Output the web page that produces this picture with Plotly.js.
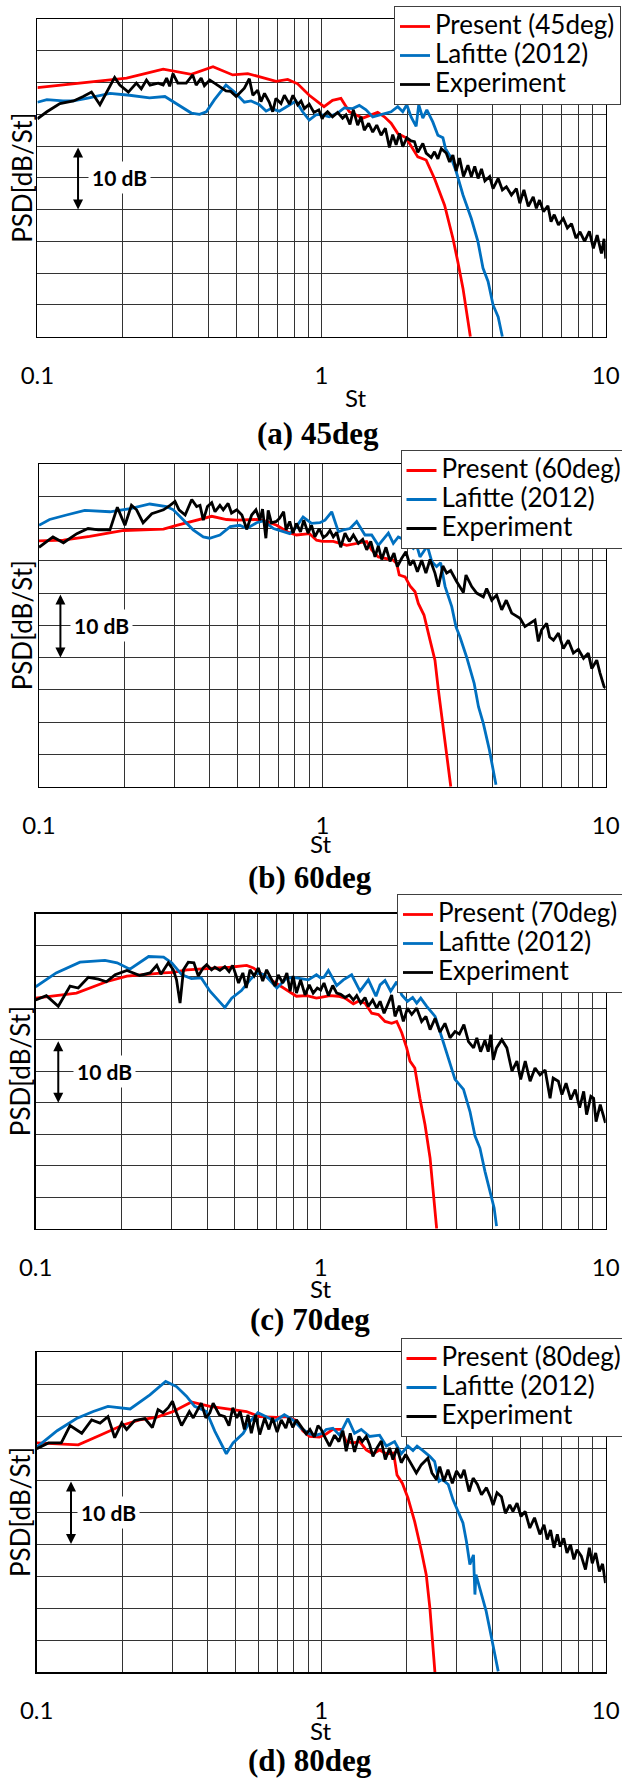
<!DOCTYPE html>
<html>
<head>
<meta charset="utf-8">
<script src="https://cdn.plot.ly/plotly-3.0.1.min.js"></script>
<style>
html,body{margin:0;padding:0;background:#ffffff;}
#chart{width:622px;height:1778px;}
</style>
</head>
<body>
<div id="chart"></div>
<script>
// ---------------- DATA (St, PSD dB relative) ----------------
const stTickValues = [0.1,0.2,0.3,0.4,0.5,0.6,0.7,0.8,0.9,1,2,3,4,5,6,7,8,9,10];
const stTickText   = ['0.1','','','','','','','','','1','','','','','','','','','10'];

const seriesNames = ['Present (45deg)','Present (60deg)','Present (70deg)','Present (80deg)'];
const captions = ['(a) 45deg','(b) 60deg','(c) 70deg','(d) 80deg'];

// ---- (a) 45deg ----
const present45 = [[0.1,39.2],[0.206,40.7],[0.277,42.1],[0.348,41.3],[0.415,42.5],[0.487,41.2],[0.55,41.4],[0.692,40.2],[0.76,40.5],[0.824,39.8],[0.905,38.0],[0.982,36.8],[1.02,36.2],[1.093,37.2],[1.17,37.5],[1.252,35.4],[1.395,34.4],[1.576,35.3],[1.664,34.6],[1.757,33.6],[1.854,32.0],[1.983,31.3],[2.181,28.3],[2.334,27.8],[2.497,24.9],[2.71,20.7],[2.899,15.5],[3.017,11.8],[3.146,7.6],[3.34,0]];
const lafitte45 = [[0.1,36.9],[0.108,37.3],[0.123,37.1],[0.134,37.1],[0.149,37.5],[0.18,38.3],[0.211,38.0],[0.248,37.6],[0.281,37.8],[0.308,36.7],[0.348,35.2],[0.372,35.0],[0.393,35.4],[0.42,37.3],[0.461,39.6],[0.494,38.5],[0.535,36.9],[0.565,37.1],[0.604,36.5],[0.638,35.5],[0.664,35.9],[0.71,35.5],[0.771,36.5],[0.813,37.1],[0.858,35.4],[0.905,34.1],[0.955,34.9],[0.99,35.0],[1.064,34.6],[1.139,35.2],[1.202,36.0],[1.287,35.9],[1.358,36.4],[1.434,35.7],[1.514,34.6],[1.597,34.9],[1.686,35.1],[1.757,35.4],[1.854,36.2],[1.931,35.4],[1.995,36.5],[2.066,34.6],[2.152,33.1],[2.198,36.5],[2.272,34.4],[2.347,35.7],[2.463,33.8],[2.567,31.7],[2.674,31.3],[2.731,29.6],[2.862,28.1],[2.977,26.0],[3.146,22.3],[3.365,18.6],[3.55,15.0],[3.699,10.8],[3.855,8.7],[4.014,5.0],[4.184,3.1],[4.329,0]];
const experiment45 = [[0.1,34.3],[0.108,35.4],[0.12,36.7],[0.134,37.1],[0.145,37.8],[0.155,38.5],[0.166,36.5],[0.177,38.7],[0.187,40.8],[0.195,39.6],[0.209,38.5],[0.223,39.9],[0.232,39.0],[0.242,40.4],[0.249,39.6],[0.266,39.9],[0.277,39.6],[0.285,40.7],[0.292,39.4],[0.3,41.4],[0.312,39.9],[0.334,39.9],[0.352,41.2],[0.362,39.6],[0.377,40.7],[0.387,39.5],[0.404,40.4],[0.42,39.9],[0.442,39.3],[0.461,38.7],[0.479,38.6],[0.501,37.8],[0.535,39.1],[0.557,40.6],[0.573,38.0],[0.596,38.8],[0.612,37.0],[0.63,38.3],[0.655,36.9],[0.673,35.4],[0.691,37.5],[0.72,36.7],[0.74,38.0],[0.771,36.6],[0.793,38.0],[0.824,36.5],[0.847,37.1],[0.87,35.9],[0.905,36.6],[0.94,35.3],[0.978,35.7],[1.005,34.3],[1.022,34.9],[1.05,35.4],[1.093,34.6],[1.139,35.3],[1.186,34.4],[1.219,34.9],[1.259,33.4],[1.294,35.7],[1.34,33.3],[1.377,34.6],[1.414,32.5],[1.465,33.6],[1.514,32.2],[1.564,33.3],[1.62,31.7],[1.677,32.8],[1.733,29.8],[1.78,31.8],[1.83,30.2],[1.88,32.0],[1.931,29.9],[1.995,31.3],[2.066,30.8],[2.123,30.7],[2.181,29.0],[2.272,30.4],[2.334,28.9],[2.433,28.2],[2.497,29.1],[2.567,28.0],[2.639,29.6],[2.746,28.9],[2.822,27.5],[2.899,28.6],[2.977,26.1],[3.06,28.1],[3.159,25.2],[3.274,27.0],[3.366,25.2],[3.46,26.8],[3.556,24.9],[3.655,26.4],[3.757,24.5],[3.905,25.2],[4.014,23.3],[4.184,24.9],[4.329,23.1],[4.473,23.6],[4.658,22.3],[4.85,23.3],[4.986,21.0],[5.154,23.1],[5.339,20.5],[5.558,22.0],[5.701,20.2],[5.848,21.5],[6.04,19.7],[6.26,20.6],[6.42,18.1],[6.59,19.2],[6.82,17.6],[7.09,18.6],[7.33,17.1],[7.58,17.8],[7.86,15.5],[8.12,16.5],[8.43,15.0],[8.76,16.6],[9.05,13.9],[9.33,16.0],[9.66,13.1],[9.87,15.4],[10.0,12.3]];

// ---- (b) 60deg ----
const present60 = [[0.1,38.1],[0.122,38.2],[0.151,38.8],[0.199,39.7],[0.275,39.9],[0.306,40.5],[0.407,41.9],[0.459,41.4],[0.499,41.3],[0.586,41.4],[0.636,41.1],[0.69,40.5],[0.76,39.4],[0.81,39.0],[0.901,39.2],[0.954,38.2],[1.0,38.0],[1.093,38.0],[1.219,37.4],[1.287,37.6],[1.434,38.0],[1.493,36.7],[1.576,35.6],[1.78,35.1],[1.83,34.6],[1.868,32.8],[1.959,32.5],[2.039,31.1],[2.124,30.2],[2.181,28.4],[2.284,26.6],[2.399,22.7],[2.497,19.6],[2.567,15.0],[2.664,9.3],[2.76,4.1],[2.84,0]];
const lafitte60 = [[0.1,40.5],[0.109,41.4],[0.125,42.1],[0.145,42.8],[0.178,42.6],[0.21,43.1],[0.246,43.8],[0.282,43.4],[0.298,42.9],[0.323,41.3],[0.35,39.8],[0.38,38.7],[0.4,38.5],[0.435,39.0],[0.473,40.3],[0.511,40.5],[0.541,40.0],[0.586,40.9],[0.62,41.2],[0.672,40.0],[0.727,39.5],[0.767,39.2],[0.81,40.3],[0.855,41.8],[0.916,40.8],[0.98,40.9],[1.022,41.3],[1.079,42.6],[1.139,39.5],[1.186,39.8],[1.252,40.0],[1.322,41.1],[1.414,39.0],[1.493,39.0],[1.576,37.4],[1.71,39.3],[1.78,37.7],[1.854,38.7],[1.959,38.2],[2.039,37.4],[2.095,36.9],[2.152,37.4],[2.211,35.6],[2.347,37.3],[2.433,34.9],[2.53,34.1],[2.615,34.7],[2.712,31.0],[2.862,27.9],[2.961,24.8],[3.06,23.2],[3.229,20.1],[3.434,16.0],[3.556,12.4],[3.699,9.8],[3.886,5.7],[4.029,2.3],[4.1,0.3]];
const experiment60 = [[0.1,37.1],[0.112,38.7],[0.122,37.8],[0.136,39.2],[0.149,40.0],[0.162,39.8],[0.178,39.8],[0.189,43.3],[0.201,40.5],[0.212,43.6],[0.221,42.9],[0.233,40.9],[0.25,42.3],[0.275,42.9],[0.29,43.6],[0.302,44.2],[0.312,42.9],[0.328,42.1],[0.346,44.5],[0.36,43.4],[0.37,43.6],[0.38,41.3],[0.393,43.4],[0.407,44.0],[0.418,42.6],[0.435,43.6],[0.447,42.9],[0.465,43.9],[0.478,42.4],[0.499,42.9],[0.52,42.1],[0.541,39.9],[0.563,42.1],[0.583,42.9],[0.602,41.3],[0.615,43.0],[0.632,38.5],[0.644,42.8],[0.661,40.9],[0.688,41.1],[0.707,41.6],[0.73,42.6],[0.745,39.8],[0.767,41.1],[0.788,39.3],[0.81,40.8],[0.837,39.5],[0.86,41.3],[0.89,39.3],[0.916,40.5],[0.941,38.7],[0.975,40.0],[1.008,38.6],[1.036,39.0],[1.064,39.7],[1.093,38.7],[1.124,39.4],[1.161,37.1],[1.202,39.3],[1.245,38.0],[1.287,39.0],[1.34,37.7],[1.388,38.3],[1.434,36.7],[1.482,38.0],[1.534,35.6],[1.576,37.3],[1.62,35.2],[1.677,37.1],[1.733,34.9],[1.79,36.2],[1.839,34.1],[1.906,35.4],[1.972,36.4],[2.039,34.3],[2.095,35.1],[2.165,33.3],[2.242,35.1],[2.32,33.1],[2.399,35.2],[2.497,33.1],[2.567,31.0],[2.663,34.2],[2.746,33.1],[2.837,33.5],[2.977,31.8],[3.146,30.1],[3.213,32.8],[3.366,31.0],[3.505,30.0],[3.699,29.4],[3.801,30.7],[3.96,28.9],[4.122,29.7],[4.295,27.4],[4.457,28.9],[4.658,26.9],[4.986,26.1],[5.189,24.8],[5.41,25.3],[5.629,25.8],[5.783,22.5],[5.94,24.3],[6.19,25.3],[6.34,23.2],[6.54,22.7],[6.81,23.8],[7.09,21.4],[7.38,22.7],[7.69,20.7],[8.01,21.3],[8.35,19.9],[8.68,20.7],[8.93,18.3],[9.3,19.6],[9.55,17.6],[9.87,15.5],[10.0,15.3]];

// ---- (c) 70deg ----
const present70 = [[0.1,36.6],[0.118,37.0],[0.139,37.4],[0.177,39.2],[0.209,40.1],[0.281,40.6],[0.304,40.7],[0.339,41.1],[0.398,41.3],[0.48,41.5],[0.55,41.8],[0.58,41.4],[0.628,40.3],[0.682,39.3],[0.74,38.2],[0.822,36.9],[0.894,37.0],[0.966,36.6],[1.0,36.7],[1.078,37.0],[1.154,36.9],[1.217,36.6],[1.302,35.7],[1.356,36.1],[1.431,35.8],[1.51,34.2],[1.594,34.0],[1.681,32.9],[1.774,32.6],[1.848,32.9],[1.925,31.1],[2.003,28.7],[2.057,26.6],[2.139,25.5],[2.229,20.7],[2.323,16.5],[2.42,11.2],[2.485,5.9],[2.552,0]];
const lafitte70 = [[0.1,38.4],[0.118,40.6],[0.143,42.3],[0.175,42.6],[0.193,42.2],[0.214,41.2],[0.249,43.2],[0.281,43.1],[0.3,42.2],[0.326,40.3],[0.352,39.7],[0.381,39.8],[0.409,37.7],[0.461,35.1],[0.487,36.6],[0.527,37.8],[0.565,39.5],[0.596,40.6],[0.636,40.3],[0.702,38.2],[0.761,39.8],[0.822,39.8],[0.905,39.5],[0.966,40.3],[1.0,39.8],[1.027,39.9],[1.064,41.0],[1.138,38.6],[1.201,39.5],[1.284,40.3],[1.374,37.7],[1.47,39.5],[1.563,36.9],[1.616,38.7],[1.681,39.4],[1.76,37.7],[1.848,39.2],[1.925,37.1],[2.016,36.1],[2.102,36.7],[2.172,35.8],[2.244,36.6],[2.355,35.3],[2.52,33.7],[2.621,31.3],[2.753,28.1],[2.883,25.5],[2.96,23.7],[3.17,22.1],[3.34,18.6],[3.48,14.7],[3.62,12.8],[3.77,9.1],[3.98,4.9],[4.06,3.3],[4.14,0.4]];
const experiment70 = [[0.1,36.3],[0.109,37.0],[0.12,35.3],[0.132,38.5],[0.141,38.2],[0.153,39.9],[0.166,39.6],[0.177,39.2],[0.19,40.3],[0.209,41.0],[0.232,40.2],[0.252,40.6],[0.266,41.8],[0.275,40.4],[0.292,42.2],[0.304,41.1],[0.312,39.5],[0.321,35.8],[0.33,41.1],[0.343,42.3],[0.359,42.2],[0.372,40.1],[0.387,41.4],[0.398,41.9],[0.414,41.1],[0.425,41.5],[0.443,41.0],[0.461,41.6],[0.477,40.8],[0.491,41.8],[0.515,39.0],[0.533,40.6],[0.548,38.2],[0.565,41.1],[0.584,40.1],[0.604,41.4],[0.626,39.3],[0.646,41.1],[0.668,39.8],[0.692,38.5],[0.71,40.3],[0.736,39.0],[0.761,40.6],[0.781,37.7],[0.8,40.1],[0.822,37.4],[0.85,39.5],[0.881,37.1],[0.912,38.7],[0.941,37.4],[0.973,38.2],[1.0,37.9],[1.027,39.0],[1.064,37.0],[1.102,38.6],[1.138,37.4],[1.175,37.2],[1.217,36.7],[1.26,37.1],[1.302,36.3],[1.338,37.0],[1.382,35.8],[1.431,36.7],[1.47,35.3],[1.522,36.3],[1.572,35.0],[1.616,36.1],[1.669,34.2],[1.726,35.8],[1.774,37.1],[1.823,33.7],[1.886,35.4],[1.95,32.9],[2.016,35.0],[2.086,34.0],[2.172,35.0],[2.26,32.9],[2.34,33.7],[2.42,31.6],[2.52,33.4],[2.621,31.2],[2.729,32.6],[2.843,30.3],[2.96,31.3],[3.066,30.9],[3.18,32.4],[3.3,29.7],[3.44,28.7],[3.53,30.3],[3.64,28.1],[3.77,29.9],[3.87,28.1],[3.95,30.8],[4.03,26.8],[4.14,28.7],[4.32,30.0],[4.5,28.7],[4.69,25.0],[4.88,26.6],[5.03,23.7],[5.22,26.6],[5.43,23.4],[5.65,25.5],[5.88,24.4],[6.13,25.2],[6.38,20.7],[6.54,23.9],[6.82,23.4],[7.02,21.3],[7.26,23.1],[7.54,20.5],[7.82,22.1],[8.1,19.2],[8.37,21.8],[8.57,18.1],[8.87,21.0],[9.07,20.7],[9.25,17.0],[9.57,19.7],[9.98,16.8]];

// ---- (d) 80deg ----
const present80 = [[0.1,35.8],[0.118,35.6],[0.14,35.5],[0.167,37.0],[0.201,38.6],[0.23,39.4],[0.263,39.8],[0.302,40.7],[0.35,42.2],[0.406,41.5],[0.476,41.1],[0.546,40.7],[0.608,39.9],[0.697,39.8],[0.753,39.9],[0.817,39.3],[0.862,37.7],[0.91,36.8],[0.985,36.7],[1.041,37.2],[1.099,37.9],[1.176,37.9],[1.224,36.0],[1.293,35.8],[1.365,36.0],[1.44,34.7],[1.52,34.1],[1.604,34.7],[1.693,34.1],[1.797,34.2],[1.847,30.8],[1.928,29.5],[2.018,27.2],[2.131,23.5],[2.25,18.9],[2.34,15.2],[2.41,10.0],[2.46,4.8],[2.51,0]];
const lafitte80 = [[0.1,35.1],[0.118,37.7],[0.138,39.6],[0.158,40.7],[0.178,41.5],[0.213,41.1],[0.25,43.3],[0.284,45.4],[0.31,44.6],[0.336,43.1],[0.359,41.5],[0.395,40.7],[0.423,37.6],[0.464,34.1],[0.49,35.8],[0.532,37.3],[0.561,39.1],[0.599,40.5],[0.641,39.9],[0.687,39.2],[0.742,40.2],[0.795,39.4],[0.85,38.1],[0.91,37.2],[0.961,37.0],[1.01,37.3],[1.041,37.9],[1.099,38.1],[1.16,37.0],[1.241,39.6],[1.31,37.3],[1.383,37.9],[1.48,36.8],[1.604,37.0],[1.694,35.3],[1.811,36.0],[1.912,34.1],[2.018,35.3],[2.102,34.6],[2.173,35.3],[2.278,34.6],[2.408,33.7],[2.504,32.9],[2.596,29.8],[2.666,30.1],[2.796,29.3],[2.907,26.9],[3.02,25.1],[3.15,23.3],[3.24,20.4],[3.33,16.8],[3.43,18.3],[3.47,12.1],[3.5,15.2],[3.61,13.1],[3.8,9.5],[3.97,5.3],[4.19,0.1]];
const experiment80 = [[0.1,34.9],[0.11,35.8],[0.122,35.8],[0.131,38.5],[0.144,37.3],[0.156,39.4],[0.167,38.9],[0.178,39.9],[0.188,36.6],[0.199,38.9],[0.207,37.9],[0.221,39.3],[0.24,39.6],[0.255,38.2],[0.267,41.0],[0.278,40.5],[0.29,41.3],[0.3,42.3],[0.31,40.5],[0.323,38.5],[0.344,40.7],[0.355,39.7],[0.368,41.0],[0.379,42.0],[0.393,39.7],[0.406,40.5],[0.417,42.0],[0.438,40.2],[0.458,39.9],[0.474,38.5],[0.489,41.3],[0.505,39.7],[0.519,40.7],[0.537,37.9],[0.553,40.2],[0.568,37.3],[0.588,40.2],[0.608,37.1],[0.633,39.7],[0.655,37.9],[0.674,39.7],[0.7,37.5],[0.724,39.4],[0.751,38.1],[0.77,39.7],[0.795,38.2],[0.818,39.4],[0.85,38.4],[0.886,37.2],[0.913,37.9],[0.946,36.7],[0.974,38.5],[1.0,37.9],[1.027,36.8],[1.07,35.3],[1.114,37.0],[1.154,36.0],[1.192,37.7],[1.224,34.5],[1.265,37.3],[1.31,34.4],[1.357,36.8],[1.394,36.0],[1.44,36.8],[1.48,35.5],[1.52,33.7],[1.57,35.0],[1.626,36.1],[1.68,33.2],[1.74,35.0],[1.787,33.2],[1.847,35.0],[1.912,32.7],[1.982,34.0],[2.045,33.0],[2.16,31.1],[2.25,32.4],[2.37,33.4],[2.45,31.1],[2.54,30.1],[2.61,32.1],[2.7,29.8],[2.79,31.6],[2.89,29.5],[2.99,31.4],[3.1,30.3],[3.18,31.6],[3.31,28.2],[3.42,30.3],[3.54,29.3],[3.66,27.7],[3.81,28.8],[3.93,27.4],[4.02,26.1],[4.15,28.0],[4.3,27.4],[4.44,24.8],[4.6,26.1],[4.72,25.1],[4.88,26.4],[5.04,24.3],[5.21,25.1],[5.41,22.5],[5.62,24.1],[5.87,21.5],[6.07,23.0],[6.23,20.7],[6.4,22.2],[6.58,19.4],[6.76,21.5],[6.92,19.6],[7.12,20.9],[7.31,18.6],[7.52,19.9],[7.73,17.6],[7.93,19.1],[8.21,18.1],[8.49,16.0],[8.76,19.4],[8.97,17.0],[9.22,18.6],[9.5,15.7],[9.75,16.9],[9.98,13.9]];

// scale bar: 10 dB between these PSD levels
const scaleBarLow = 20, scaleBarHigh = 30;

// ---------------- LAYOUT (pixel geometry) ----------------
const W = 622, H = 1778;
const panels = [
  {data:[present45, lafitte45, experiment45], l:37.4, r:605.7, t:19,    b:336.7, legX:394,   legY:6,    stX:355, stY:398,  capX:318, capY:433,  psdX:22, arrowSt:0.139, labelSt:0.194},
  {data:[present60, lafitte60, experiment60], l:39,   r:605.7, t:464,   b:786.7, legX:400.5, legY:450,  stX:321, stY:843,  capX:310, capY:877,  psdX:22, arrowSt:0.119, labelSt:0.166},
  {data:[present70, lafitte70, experiment70], l:35.7, r:605.7, t:913.7, b:1228.7,legX:397,   legY:894,  stX:321, stY:1288, capX:310, capY:1319, psdX:20, arrowSt:0.120, labelSt:0.175},
  {data:[present80, lafitte80, experiment80], l:36.7, r:605.7, t:1352,  b:1672,  legX:400.5, legY:1338, stX:320, stY:1730, capX:310, capY:1760, psdX:20, arrowSt:0.132, labelSt:0.179}
];
const colors = ['#ff0000', '#0070c0', '#000000'];
const FONT = 'Lato, "Open Sans", sans-serif';
const px2x = p => p / W;
const px2y = p => 1 - p / H;
const bigText = t => '<span style="font-size:26px">' + t + '</span>';

const traces = [];
const layout = {
  width: W, height: H,
  margin: {l:0, r:0, t:0, b:0, pad:0, autoexpand:false},
  paper_bgcolor: '#ffffff', plot_bgcolor: '#ffffff',
  font: {family: FONT, color: '#000000'},
  showlegend: true,
  annotations: []
};

panels.forEach((p, i) => {
  const s = i === 0 ? '' : String(i + 1);
  const xa = 'x' + s, ya = 'y' + s, lg = 'legend' + s;
  const names = [seriesNames[i], 'Lafitte (2012)', 'Experiment'];
  p.data.forEach((series, k) => {
    traces.push({
      type: 'scatter', mode: 'lines',
      x: series.map(d => d[0]), y: series.map(d => d[1]),
      name: bigText(names[k]), xaxis: xa, yaxis: ya, legend: lg,
      line: {color: colors[k], width: 2.8},
      hoverinfo: 'skip'
    });
  });
  layout['xaxis' + s] = {
    type: 'log', range: [-1, 1], domain: [px2x(p.l), px2x(p.r)], anchor: ya,
    tickmode: 'array', tickvals: stTickValues, ticktext: stTickText,
    ticks: '', showgrid: true, gridcolor: '#333333', gridwidth: 1,
    showline: true, mirror: true, linecolor: '#000000', linewidth: 1.5,
    zeroline: false, ticklabelstandoff: 17,
    tickfont: {family: FONT, size: 24, color: '#000000'}, fixedrange: true
  };
  layout['yaxis' + s] = {
    range: [0, 50], domain: [px2y(p.b), px2y(p.t)], anchor: xa,
    tick0: 0, dtick: 5, showticklabels: false, ticks: '',
    showgrid: true, gridcolor: '#333333', gridwidth: 1,
    showline: true, mirror: true, linecolor: '#000000', linewidth: 1.5,
    zeroline: false, fixedrange: true
  };
  layout[lg] = {
    x: px2x(p.legX), y: px2y(p.legY), xanchor: 'left', yanchor: 'top',
    xref: 'paper', yref: 'paper',
    bgcolor: '#ffffff', bordercolor: '#404040', borderwidth: 1,
    font: {family: FONT, size: 20, color: '#000000'},
    tracegroupgap: 0, itemwidth: 30
  };
  const yMid = (p.t + p.b) / 2;
  layout.annotations.push(
    {xref:'paper', yref:'paper', x: px2x(p.psdX), y: px2y(yMid), text: 'PSD[dB/St]', textangle: -90,
     showarrow: false, xanchor: 'center', yanchor: 'middle', font: {family: FONT, size: 26, color: '#000'}},
    {xref:'paper', yref:'paper', x: px2x(p.stX), y: px2y(p.stY), text: 'St',
     showarrow: false, xanchor: 'center', yanchor: 'middle', font: {family: FONT, size: 24, color: '#000'}},
    {xref:'paper', yref:'paper', x: px2x(p.capX), y: px2y(p.capY), text: captions[i],
     showarrow: false, xanchor: 'center', yanchor: 'middle',
     font: {family: '"Liberation Serif", "Times New Roman", serif', size: 31, color: '#000', weight: 'bold'}},
    {xref: xa, yref: ya, x: Math.log10(p.arrowSt), y: scaleBarLow,
     axref: xa, ayref: ya, ax: Math.log10(p.arrowSt), ay: scaleBarHigh,
     text: '', showarrow: true, arrowside: 'end+start', arrowhead: 2, startarrowhead: 2,
     arrowsize: 1, startarrowsize: 1, arrowwidth: 2, arrowcolor: '#000', standoff: 0, startstandoff: 0},
    {xref: xa, yref: ya, x: Math.log10(p.labelSt), y: (scaleBarLow + scaleBarHigh) / 2,
     text: '10 dB', showarrow: false, xanchor: 'center', yanchor: 'middle',
     bgcolor: '#ffffff', borderpad: 3,
     font: {family: FONT, size: 21, color: '#000', weight: 'bold'}}
  );
});

Plotly.newPlot('chart', traces, layout, {displayModeBar: false, staticPlot: true});
</script>
</body>
</html>
